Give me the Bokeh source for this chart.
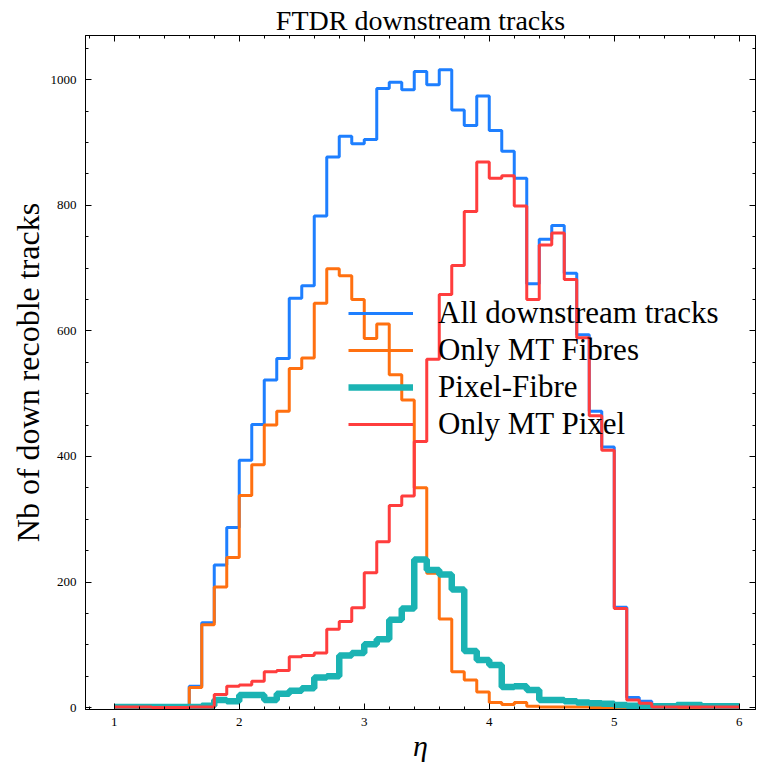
from bokeh.plotting import figure
from bokeh.models import Range1d, LinearAxis, SingleIntervalTicker, CustomLabelingPolicy
from bokeh.embed import file_html
from bokeh.resources import INLINE

# Bin edges in eta (bin width 0.1), 50 bins from 1.0 to 6.0
eta_edges = [1.0, 1.1, 1.2, 1.3, 1.4, 1.5, 1.6, 1.7, 1.8, 1.9,
             2.0, 2.1, 2.2, 2.3, 2.4, 2.5, 2.6, 2.7, 2.8, 2.9,
             3.0, 3.1, 3.2, 3.3, 3.4, 3.5, 3.6, 3.7, 3.8, 3.9,
             4.0, 4.1, 4.2, 4.3, 4.4, 4.5, 4.6, 4.7, 4.8, 4.9,
             5.0, 5.1, 5.2, 5.3, 5.4, 5.5, 5.6, 5.7, 5.8, 5.9, 6.0]

all_downstream = [2, 2, 2, 2, 2, 3, 34, 135, 227, 287,
                  394, 451, 522, 556, 652, 672, 783, 877, 910, 898,
                  905, 986, 996, 984, 1013, 992, 1016, 952, 927, 974,
                  919, 886, 843, 675, 746, 768, 692, 594, 472, 415,
                  160, 16, 10, 2, 2, 3, 3, 2, 2, 2]

only_mt_fibres = [1, 1, 1, 1, 1, 2, 32, 132, 192, 239,
                  338, 387, 450, 472, 540, 557, 644, 699, 688, 650,
                  588, 611, 530, 490, 350, 214, 141, 57, 44, 25,
                  8, 5, 8, 2, 1, 1, 1, 1, 0, 0,
                  0, 0, 0, 0, 0, 0, 0, 0, 0, 0]

pixel_fibre = [1, 1, 1, 1, 1, 1, 1, 3, 12, 10,
               20, 20, 12, 22, 27, 31, 48, 50, 83, 87,
               101, 109, 140, 158, 236, 219, 212, 188, 90, 76,
               68, 33, 34, 28, 12, 12, 10, 8, 7, 6,
               4, 3, 2, 2, 2, 4, 4, 2, 2, 2]

only_mt_pixel = [1, 1, 1, 0, 0, 0, 1, 1, 21, 34,
                 36, 42, 57, 59, 81, 83, 87, 125, 137, 159,
                 215, 264, 322, 337, 424, 555, 658, 704, 790, 869,
                 843, 847, 799, 650, 737, 756, 682, 589, 465, 410,
                 158, 12, 7, 1, 1, 1, 1, 1, 1, 1]

series = [
    ("All downstream tracks", all_downstream, "#1e7fff", 3),
    ("Only MT Fibres", only_mt_fibres, "#ff7010", 3),
    ("Pixel-Fibre", pixel_fibre, "#1bb3b3", 6.5),
    ("Only MT Pixel", only_mt_pixel, "#ff3d3d", 3),
]

SERIF = "Liberation Serif"

p = figure(width=766, height=764, output_backend="svg", toolbar_location=None,
           x_range=Range1d(0.77, 6.13), y_range=Range1d(-3, 1070.5),
           min_border_left=85, min_border_right=11, min_border_top=35,
           min_border_bottom=52)

p.grid.visible = False
p.outline_line_color = "black"
p.outline_line_width = 1

p.title.text = "FTDR downstream tracks"
p.title.text_font = SERIF
p.title.text_font_style = "normal"
p.title.text_font_size = "28px"
p.title.text_color = "black"
p.title.align = "center"
p.title.standoff = 0
p.title.offset = 0

for name, vals, color, lw in series:
    p.step(x=eta_edges, y=vals + [vals[-1]], mode="after", line_color=color,
           line_width=lw, legend_label=name)

def style_axis(ax, xaxis):
    if xaxis:
        ax.ticker = SingleIntervalTicker(interval=1, num_minor_ticks=5)
    else:
        ax.ticker = SingleIntervalTicker(interval=200, num_minor_ticks=4)
    ax.major_tick_in = 6
    ax.major_tick_out = 0
    ax.minor_tick_in = 3
    ax.minor_tick_out = 0
    ax.axis_line_color = "black"
    ax.major_tick_line_color = "black"
    ax.minor_tick_line_color = "black"
    ax.major_label_text_font = SERIF
    ax.major_label_text_font_size = "13px"
    ax.major_label_text_color = "black"

style_axis(p.xaxis[0], True)
style_axis(p.yaxis[0], False)
p.xaxis.axis_label = "η"
p.xaxis.axis_label_text_font = SERIF
p.xaxis.axis_label_text_font_style = "italic"
p.xaxis.axis_label_text_font_size = "30px"
p.xaxis.axis_label_text_color = "black"
p.xaxis.axis_label_standoff = 0
p.xaxis.major_label_standoff = 8

p.yaxis.axis_label = "Nb of down recoble tracks"
p.yaxis.axis_label_text_font = SERIF
p.yaxis.axis_label_text_font_style = "normal"
p.yaxis.axis_label_text_font_size = "32px"
p.yaxis.axis_label_text_color = "black"
p.yaxis.axis_label_standoff = 2
p.yaxis.major_label_standoff = 9

hide_labels = "const n = indices.size; for (let i = 0; i < n; i++) indices.unset(i); return indices"

for loc, is_x in (("above", True), ("right", False)):
    ax = LinearAxis()
    style_axis(ax, is_x)
    ax.major_label_policy = CustomLabelingPolicy(code=hide_labels)
    ax.major_label_text_font_size = "0px"
    ax.major_label_standoff = 0
    p.add_layout(ax, loc)

lg = p.legend[0]
lg.location = (263, 267)
lg.background_fill_alpha = 0
lg.border_line_alpha = 0
lg.padding = 0
lg.margin = 0
lg.spacing = 1
lg.glyph_width = 65
lg.glyph_height = 36
lg.label_height = 36
lg.label_standoff = 25
lg.label_text_font = SERIF
lg.label_text_font_size = "31px"
lg.label_text_color = "black"

open("out.html", "w").write(file_html(p, INLINE))
